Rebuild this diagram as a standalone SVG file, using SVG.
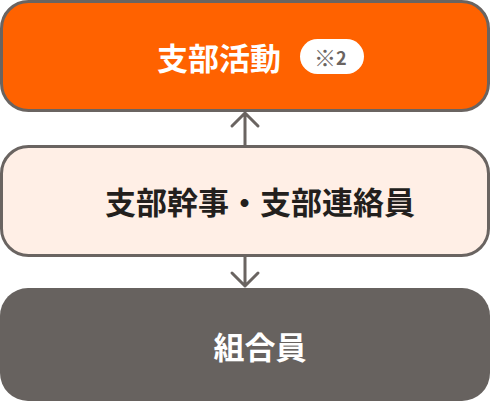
<svg xmlns="http://www.w3.org/2000/svg" width="490" height="401" viewBox="0 0 490 401">
<defs>
<style>
.t{font-family:"Noto Sans CJK JP","Noto Sans",sans-serif;font-weight:700;font-size:31px}
.conn{stroke:#6a6461;stroke-width:3;fill:none;stroke-linecap:round;stroke-linejoin:round}
</style>
</defs>
<g id="node-top">
<rect x="1.5" y="1.5" width="487" height="109" rx="27" fill="#ff6200" stroke="#6a6461" stroke-width="3"/>
<text class="t" x="219" y="70" fill="#ffffff" text-anchor="middle">支部活動</text>
<rect x="300" y="39" width="64" height="35" rx="17.5" fill="#ffffff"/>
<text y="64.5" fill="#6a6461" style="font-family:'Noto Sans CJK JP','Noto Sans',sans-serif;font-weight:700;font-size:18px"><tspan x="314" y="65.5" style="font-size:22px">※</tspan><tspan x="336" y="64.5">2</tspan></text>
</g>
<g id="node-middle">
<rect x="1.5" y="146.5" width="487" height="109" rx="27" fill="#ffefe6" stroke="#6a6461" stroke-width="3"/>
<text class="t" x="260" y="214" fill="#231f1d" text-anchor="middle">支部幹事・支部連絡員</text>
</g>
<g id="node-bottom">
<rect x="0" y="288" width="490" height="113" rx="28" fill="#67625f"/>
<text class="t" x="260" y="358.5" fill="#ffffff" text-anchor="middle">組合員</text>
</g>
<g id="connectors">
<path class="conn" d="M245 145V113M232 126L245 113L258 126"/>
<path class="conn" d="M245 257V286M232 273L245 286L258 273"/>
</g>
</svg>
